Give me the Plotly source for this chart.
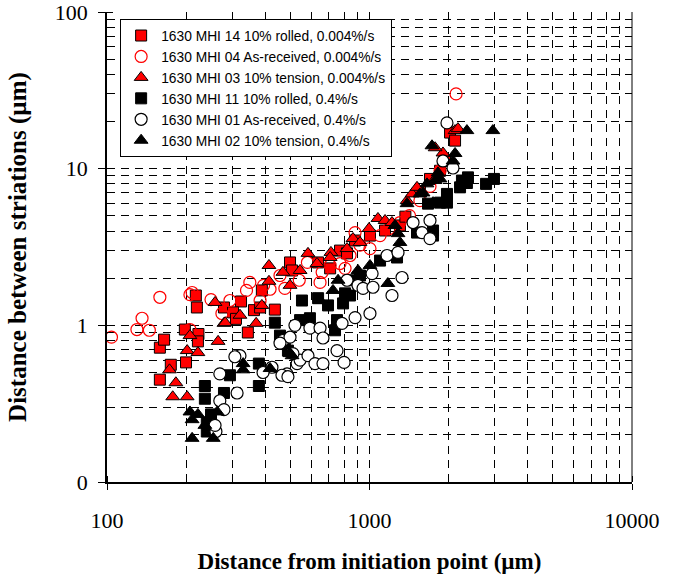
import plotly.graph_objects as go

# ---- data (x: distance from initiation point, um; y: striation spacing, um) ----
s14_x = [159, 165, 159, 175, 198, 223, 222, 200, 218, 220, 279, 324, 344, 363, 436, 498, 507, 637, 708, 772,
         821, 881, 1004, 1146, 1306, 1370, 1556, 1700, 1857, 1940, 2027, 2118, 302, 310, 383, 389]
s14_y = [0.72, 0.81, 0.45, 0.56, 0.94, 0.88, 0.79, 0.58, 1.55, 1.30, 1.30, 1.42, 0.90, 1.25, 1.26, 2.52, 2.24, 2.52, 2.31, 3.00,
         2.88, 3.48, 3.74, 4.03, 4.34, 4.94, 7.2, 8.6, 9.7, 11.2, 17.0, 15.1, 1.21, 1.10, 1.30, 1.67]

s04_x = [104, 130, 136, 145, 159, 207, 211, 249, 274, 207, 294, 340, 350, 383, 395, 418, 456, 476, 540, 580,
         648, 708, 772, 843, 920, 1004, 1097, 1190, 1306, 1420, 1556, 1700, 1857, 2137, 881, 807, 660]
s04_y = [0.84, 0.94, 1.11, 0.93, 1.51, 1.57, 1.62, 1.46, 1.19, 0.94, 1.44, 1.67, 1.88, 1.44, 1.80, 1.70, 2.08, 1.72, 1.94, 2.52,
         1.88, 2.41, 2.48, 2.79, 3.25, 3.09, 3.74, 4.15, 4.53, 5.02, 6.25, 7.7, 9.7, 30.0, 3.91, 2.31, 2.18]

s03_x = [173, 183, 178, 202, 207, 202, 222, 265, 258, 279, 414, 414, 468, 389, 321, 282, 370, 583, 631, 713,
         498, 821, 865, 920, 996, 1077, 1146, 1218, 1390, 1452, 1517, 1778, 2118, 1905, 1778, 2173, 708, 544]
s03_y = [0.52, 0.43, 0.35, 0.35, 0.86, 0.69, 0.67, 0.79, 1.40, 1.03, 2.41, 1.91, 2.18, 1.34, 1.16, 1.04, 1.03, 2.88, 2.48, 2.92,
         1.80, 3.09, 3.58, 3.38, 4.15, 4.81, 4.67, 4.53, 6.25, 6.9, 7.6, 8.6, 17.5, 12.6, 13.6, 18.0, 2.71, 2.24]

s11_x = [236, 236, 279, 379, 379, 240, 240, 249, 294, 553, 637, 436, 456, 476, 489, 695, 752, 739, 807, 843,
         843, 793, 1097, 1273, 1517, 1746, 1857, 1671, 2350, 2372, 1973, 1973, 2213, 1746, 2250, 2780, 2980, 593, 920, 544]
s11_y = [0.41, 0.34, 0.37, 0.57, 0.41, 0.24, 0.21, 0.27, 0.48, 1.44, 1.49, 1.04, 0.86, 0.80, 0.69, 1.34, 1.08, 0.93, 1.60, 1.94,
         1.55, 1.38, 2.59, 2.71, 3.91, 3.74, 6.07, 5.98, 8.1, 8.8, 6.9, 6.07, 7.6, 4.03, 8.4, 8.0, 8.6, 1.11, 2.08, 1.08]

s01_x = [269, 313, 269, 321, 260, 279, 258, 425, 485, 468, 393, 307, 464, 489, 530, 544, 583, 620, 665, 520,
         593, 648, 665, 752, 800, 498, 456, 511, 821, 904, 945, 1023, 1031, 1218, 1330, 1166, 1284, 1465, 1585, 1700,
         1700, 881, 1004, 786, 1973, 1905, 2080]
s01_y = [0.49, 0.37, 0.33, 0.64, 0.21, 0.29, 0.23, 0.54, 0.49, 0.80, 0.50, 0.63, 0.48, 0.47, 0.57, 0.60, 0.64, 0.57, 0.57, 1.00,
         0.96, 0.96, 0.83, 0.69, 0.58, 0.84, 0.77, 0.66, 1.94, 1.80, 1.72, 2.14, 1.75, 1.55, 2.02, 2.79, 2.92, 4.53, 3.91, 4.67,
         3.58, 1.12, 1.19, 1.03, 19.6, 11.2, 10.1]

s02_x = [207, 211, 222, 263, 254, 211, 330, 330, 418, 507, 498, 726, 759, 1175, 1306, 1284, 1390, 1556, 1656, 1778,
         1857, 1746, 1250, 2350, 2118, 2080, 1730, 1824, 1600, 2951, 648, 904, 1004, 236]
s02_y = [0.28, 0.25, 0.27, 0.28, 0.19, 0.19, 0.57, 0.52, 0.53, 0.64, 0.66, 1.67, 1.94, 1.85, 3.38, 3.85, 5.98, 6.9, 8.0, 8.4,
         8.6, 6.07, 4.34, 17.5, 12.5, 11.2, 14.0, 9.4, 7.0, 17.5, 1.44, 2.24, 2.41, 0.23]

names = [
    "1630 MHI 14 10% rolled, 0.004%/s",
    "1630 MHI 04 As-received, 0.004%/s",
    "1630 MHI 03 10% tension, 0.004%/s",
    "1630 MHI 11 10% rolled, 0.4%/s",
    "1630 MHI 01 As-received, 0.4%/s",
    "1630 MHI 02 10% tension, 0.4%/s",
]

y_tickvals = [0.1, 1, 10, 100]
y_ticktext = ["0", "1", "10", "100"]
x_tickvals = [100, 1000, 10000]
x_ticktext = ["100", "1000", "10000"]

RED = "#FF0000"
BLK = "#000000"
styles = [
    dict(symbol="square", color=RED, size=11, line=dict(color=BLK, width=1)),
    dict(symbol="circle-open", color=RED, size=12, line=dict(color=RED, width=1.2)),
    dict(symbol="triangle-up", color=RED, size=12, line=dict(color=BLK, width=1)),
    dict(symbol="square", color=BLK, size=11, line=dict(color=BLK, width=1)),
    dict(symbol="circle", color="white", size=12, line=dict(color=BLK, width=1.2)),
    dict(symbol="triangle-up", color=BLK, size=12, line=dict(color=BLK, width=1)),
]
series = [(s14_x, s14_y), (s04_x, s04_y), (s03_x, s03_y), (s11_x, s11_y), (s01_x, s01_y), (s02_x, s02_y)]

fig = go.Figure()
for (xs, ys), nm, st in zip(series, names, styles):
    fig.add_trace(go.Scatter(x=xs, y=ys, mode="markers", name=nm, marker=st))

serif = "Liberation Serif, Times New Roman, serif"
grid = dict(showgrid=True, gridcolor="#000000", gridwidth=1, griddash="8px,6px")

fig.update_xaxes(
    type="log", range=[2, 4], tickvals=x_tickvals, ticktext=x_ticktext, automargin=False,
    ticks="outside", ticklen=6, tickcolor="black", showline=True, linecolor="black", linewidth=1.5,
    tickfont=dict(family=serif, size=22, color="black"), ticklabelstandoff=12, ticklabeloverflow="allow",
    minor=dict(dtick="D1", ticks="inside", ticklen=6, tickcolor="black", **grid),
    title=dict(text="<b>Distance from initiation point (µm)</b>", font=dict(family=serif, size=23, color="black"), standoff=21),
    zeroline=False, **grid,
)
fig.update_yaxes(
    type="log", range=[-1, 2], tickvals=y_tickvals, ticktext=y_ticktext, automargin=False,
    ticks="outside", ticklen=7, tickcolor="black", showline=True, linecolor="black", linewidth=1.5,
    tickfont=dict(family=serif, size=22, color="black"), ticklabelstandoff=6, ticklabeloverflow="allow",
    minor=dict(dtick="D1", ticks="inside", ticklen=6, tickcolor="black", **grid),
    title=dict(text="<b>Distance between striations (µm)</b>", font=dict(family=serif, size=25, color="black"), standoff=21),
    zeroline=False, **grid,
)

fig.add_shape(type="line", xref="paper", yref="paper", x0=1, x1=1, y0=0, y1=1,
              line=dict(color="black", width=1))

fig.update_layout(
    width=673, height=577,
    margin=dict(l=107, r=41, t=12, b=95),
    plot_bgcolor="white", paper_bgcolor="white",
    legend=dict(x=0.025, y=0.985, xanchor="left", yanchor="top",
                bgcolor="white", bordercolor="black", borderwidth=1,
                font=dict(family="Liberation Sans, Arial, sans-serif", size=13.8, color="black"),
                itemwidth=30, tracegroupgap=0),
    showlegend=True,
)

fig.write_html("out.html", config={"displayModeBar": False},
               post_script="document.body.style.margin='0';")
